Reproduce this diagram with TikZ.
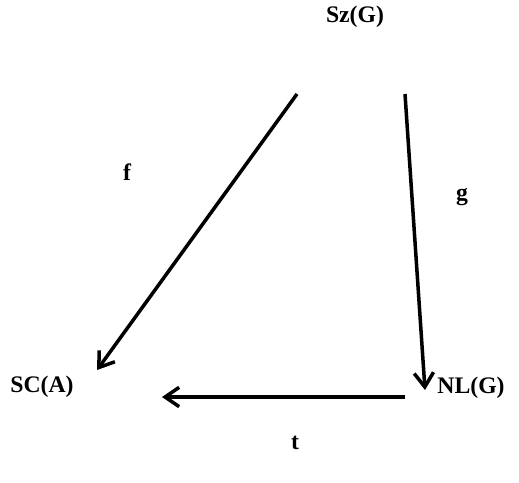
\documentclass[tikz,border=0pt]{standalone}
\usepackage{fontspec}
\setmainfont{Liberation Serif}
\usetikzlibrary{arrows.meta}
\begin{document}
\begin{tikzpicture}[x=0.02cm, y=-0.02cm, > = {Straight Barb[length=8pt, width=11pt]}, font=\fontsize{13.5}{16}\selectfont\bfseries]
            \useasboundingbox (0,0) rectangle (519,482);

            \node (sz) at (355,17) {Sz(G)};
            \node (sc) at (42,387) {SC(A)};
            \node (nl) at (471,388) {NL(G)};

            \node (f) at (127,172) {f};
            \node (g) at (462,197) {g};
            \node (t) at (295,443) {t};

            \coordinate (fs) at (297,94);
            \coordinate (fe) at (97,370);
            \coordinate (gs) at (405,94);
            \coordinate (ge) at (425,390);
            \coordinate (ts) at (405,397);
            \coordinate (te) at (162,397);

            \draw[->, line width=2pt] (fs) -- (fe);
            \draw[->, line width=2pt] (gs) -- (ge);
            \draw[->, line width=2pt] (ts) -- (te);
        \end{tikzpicture}
\end{document}
